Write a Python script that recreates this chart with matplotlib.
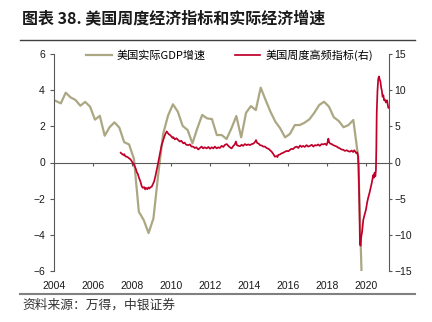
import matplotlib
matplotlib.use("Agg")
import matplotlib.pyplot as plt
from matplotlib.lines import Line2D

plt.rcParams['font.family'] = ['Liberation Sans', 'DejaVu Sans']
cjk = ['Noto Sans CJK SC', 'DejaVu Sans']

# US real GDP growth (yoy %), quarterly from 2004Q1 (position on the chart's time axis)
gdp_start = 2003.6
gdp = [3.2, 3.5, 3.4, 3.27, 3.86, 3.6, 3.46, 3.14, 3.35, 3.09,
       2.37, 2.58, 1.48, 1.95, 2.22, 1.93, 1.12, 1.0, 0.2, -2.72,
       -3.18, -3.9, -3.09, -0.6, 1.6, 2.6, 3.22, 2.81, 2.02, 1.8,
       1.06, 1.89, 2.63, 2.44, 2.4, 1.52, 1.52, 1.3, 1.89, 2.57,
       1.39, 2.75, 3.12, 2.9, 4.14, 3.46, 2.81, 2.26, 1.89, 1.39,
       1.58, 2.07, 2.07, 2.2, 2.39, 2.75, 3.18, 3.36, 3.09, 2.5,
       2.3, 1.95, 2.07, 2.35, 0.3, -9.0]
gdp_x = [gdp_start + 0.25 * i for i in range(len(gdp))]

# US weekly high-frequency index (right axis)
wei_x = [2007.42, 2007.48, 2007.55, 2007.60, 2007.66, 2007.73, 2007.80, 2007.86, 2007.92, 2008.00,
         2008.05, 2008.10, 2008.15, 2008.20, 2008.24, 2008.30, 2008.37, 2008.44, 2008.50, 2008.56,
         2008.62, 2008.67, 2008.72, 2008.78, 2008.84, 2008.89, 2008.95, 2009.01, 2009.07, 2009.13,
         2009.20, 2009.27, 2009.33, 2009.40, 2009.46, 2009.52, 2009.59, 2009.66, 2009.72, 2009.78,
         2009.83, 2009.89, 2009.95, 2010.02, 2010.08, 2010.12, 2010.20, 2010.28, 2010.37, 2010.45,
         2010.53, 2010.63, 2010.70, 2010.78, 2010.89, 2010.97, 2011.05, 2011.14, 2011.22, 2011.30,
         2011.40, 2011.48, 2011.57, 2011.65, 2011.73, 2011.83, 2011.92, 2012.00, 2012.09, 2012.17,
         2012.25, 2012.34, 2012.42, 2012.50, 2012.60, 2012.68, 2012.77, 2012.86, 2012.94, 2013.02,
         2013.11, 2013.20, 2013.27, 2013.33, 2013.38, 2013.46, 2013.54, 2013.62, 2013.70, 2013.79,
         2013.88, 2013.96, 2014.05, 2014.14, 2014.22, 2014.30, 2014.36, 2014.42, 2014.50, 2014.56,
         2014.65, 2014.73, 2014.82, 2014.90, 2015.00, 2015.08, 2015.16, 2015.24, 2015.33, 2015.40,
         2015.46, 2015.50, 2015.58, 2015.66, 2015.76, 2015.85, 2015.94, 2016.02, 2016.10, 2016.18,
         2016.26, 2016.35, 2016.45, 2016.53, 2016.62, 2016.70, 2016.78, 2016.86, 2016.95, 2017.04,
         2017.13, 2017.22, 2017.30, 2017.38, 2017.47, 2017.55, 2017.63, 2017.72, 2017.81, 2017.90,
         2017.98, 2018.03, 2018.07, 2018.11, 2018.17, 2018.24, 2018.32, 2018.41, 2018.50, 2018.58,
         2018.66, 2018.75, 2018.84, 2018.92, 2019.01, 2019.10, 2019.18, 2019.26, 2019.34, 2019.40,
         2019.44, 2019.50, 2019.55, 2019.59, 2019.62, 2019.66, 2019.69, 2019.72, 2019.76, 2019.80,
         2019.86, 2019.92, 2020.00, 2020.06, 2020.12, 2020.18, 2020.24, 2020.29, 2020.33, 2020.37,
         2020.41, 2020.44, 2020.48, 2020.51, 2020.53, 2020.55, 2020.59, 2020.63, 2020.67, 2020.70,
         2020.74, 2020.78, 2020.81, 2020.85, 2020.89, 2020.93, 2020.97, 2021.02, 2021.08, 2021.14,
         2021.19]
wei = [1.35, 1.2, 1.05, 1.15, 0.85, 0.8, 0.7, 0.55, 0.45, 0.1,
       -0.1, -0.3, -0.6, -0.9, -1.3, -1.6, -2.2, -2.7, -3.3, -3.5,
       -3.4, -3.7, -3.5, -3.7, -3.45, -3.6, -3.4, -3.35, -3.0, -2.65,
       -1.9, -1.0, -0.2, 0.8, 1.6, 2.4, 3.0, 3.6, 4.0, 4.3,
       4.1, 3.9, 3.8, 3.6, 3.4, 3.5, 3.2, 3.35, 3.1, 2.9,
       3.0, 2.65, 2.75, 2.45, 2.4, 2.5, 2.2, 2.2, 2.0, 2.1,
       1.8, 2.0, 2.2, 1.95, 2.1, 1.95, 2.15, 1.9, 2.1, 1.95,
       2.2, 1.95, 2.1, 2.0, 2.3, 2.15, 2.45, 2.55, 2.3, 2.1,
       1.95, 2.3, 2.5, 2.9, 2.4, 2.3, 2.25, 2.45, 2.3, 2.55,
       2.4, 2.5, 2.4, 2.55, 2.6, 2.8, 3.1, 2.7, 2.6, 2.4,
       2.35, 2.2, 2.2, 2.0, 1.9, 1.7, 1.5, 1.2, 0.8, 0.9,
       0.75, 1.05, 1.1, 1.25, 1.35, 1.5, 1.6, 1.55, 1.75, 1.9,
       1.85, 2.1, 2.2, 2.0, 2.35, 2.15, 2.3, 2.15, 2.4, 2.2,
       2.3, 2.45, 2.2, 2.4, 2.35, 2.5, 2.3, 2.55, 2.5, 2.6,
       2.4, 2.8, 3.3, 2.8, 2.6, 2.55, 2.4, 2.3, 2.2, 2.05,
       1.95, 1.8, 1.75, 1.6, 1.7, 1.55, 1.5, 1.65, 1.45, 1.7,
       1.55, 1.3, 1.4, 0.9, -0.5, -6.0, -11.2, -11.5, -10.2, -9.6,
       -7.95, -7.3, -6.5, -5.5, -4.8, -4.2, -3.5, -2.9, -2.3, -1.75,
       -2.1, -1.4, -1.9, -1.0, 2.0, 6.8, 10.0, 11.6, 11.9, 11.5,
       11.2, 10.3, 10.0, 9.1, 9.3, 8.6, 8.7, 8.3, 8.6, 7.6,
       7.5]

years = list(range(2004, 2021, 2))
left_ticks = list(range(-6, 7, 2))
right_ticks = list(range(-15, 16, 5))

gdp_color = "#aca783"
wei_color = "#c0002a"
axis_color = "#595959"

fig = plt.figure(figsize=(4.32, 3.22), dpi=100)
ax = fig.add_axes([54 / 432, 51 / 322, 335 / 432, 217 / 322])
ax2 = ax.twinx()

l1, = ax.plot(gdp_x, gdp, color=gdp_color, lw=1.6, label="美国实际GDP增速")
l2, = ax2.plot(wei_x, wei, color=wei_color, lw=1.25, label="美国周度高频指标(右)")

ax.set_xlim(2004, 2021.18)
ax.set_ylim(-6, 6)
ax.set_yticks(left_ticks)
ax2.set_ylim(-15, 15)
ax2.set_yticks(right_ticks)

# x axis line sits at zero, labels stay at the bottom
ax.spines['top'].set_visible(False)
ax.spines['right'].set_visible(False)
ax.spines['bottom'].set_position(('data', 0))
ax.spines['bottom'].set_color(axis_color)
ax.spines['left'].set_color(axis_color)
for s in ['top', 'bottom', 'left']:
    ax2.spines[s].set_visible(False)
ax2.spines['right'].set_color(axis_color)
for a in (ax, ax2):
    for s in a.spines.values():
        s.set_linewidth(0.8)

ax.set_xticks(years)
ax.tick_params(axis='x', direction='out', length=2.5, width=0.8, color=axis_color, labelbottom=False)
sec = ax.secondary_xaxis('bottom')
sec.set_xticks(years)
sec.spines['bottom'].set_visible(False)
sec.tick_params(length=0, pad=7, labelsize=7.5, labelcolor="#1a1a1a")

ax.tick_params(axis='y', direction='out', length=3, width=0.8, color=axis_color, pad=3.5,
               labelsize=7.5, labelcolor="#1a1a1a")
ax2.tick_params(axis='y', direction='out', length=2.5, width=0.8, color=axis_color, pad=1.5,
                labelsize=7.5, labelcolor="#1a1a1a")

ax2.legend([l1, l2], [l1.get_label(), l2.get_label()], loc='center', bbox_to_anchor=(0.524, 0.995),
           ncol=2, frameon=False, prop={'family': cjk, 'size': 8}, handlelength=2.3,
           handletextpad=0.45, columnspacing=2.6)

fig.text(21.7 / 432, 1 - 18 / 322, "图表 38. 美国周度经济指标和实际经济增速", family=cjk,
         fontsize=11.5, fontweight='bold', va='center', ha='left', color="#1a1a1a")
fig.add_artist(Line2D([20 / 432, 415 / 432], [1 - 40 / 322] * 2, color="#404040", lw=1.0))
fig.add_artist(Line2D([20 / 432, 415 / 432], [1 - 293.5 / 322] * 2, color="#808080", lw=1.5))
fig.text(22 / 432, 1 - 305 / 322, "资料来源：万得，中银证券", family=cjk, fontsize=9.2,
         style='italic', va='center', ha='left', color="#333333")

fig.savefig("out.png", dpi=100)
